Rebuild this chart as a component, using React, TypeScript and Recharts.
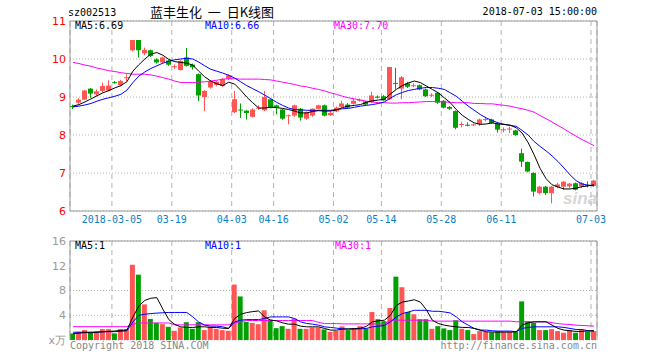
import React from 'react';
import { ComposedChart, Bar, Line, XAxis, YAxis, CartesianGrid, Cell, ReferenceLine } from 'recharts';

// daily candles, 2018-02-22 .. 2018-07-03
const openP = [
  8.76, 8.85, 8.93, 9.22, 9.07, 9.16, 9.17, 9.39, 9.31, 9.50,
  10.23, 10.50, 10.15, 10.23, 9.99, 9.91, 9.96, 9.79, 9.71, 10.04,
  9.85, 9.60, 9.00, 9.25, 9.32, 9.29, 9.48, 8.60, 8.67, 8.64,
  8.48, 8.70, 8.65, 8.94, 8.78, 8.67, 8.50, 8.51, 8.69, 8.43,
  8.51, 8.69, 8.78, 8.52, 8.62, 8.74, 8.80, 8.82, 8.91, 8.88,
  8.86, 9.01, 9.02, 8.94, 9.37, 9.22, 9.36, 9.29, 9.31, 9.20,
  9.04, 9.11, 8.90, 8.74, 8.63, 8.27, 8.27, 8.26, 8.28, 8.40,
  8.41, 8.30, 8.13, 8.15, 8.12, 7.52, 7.29, 7.00, 6.47, 6.64,
  6.47, 6.63, 6.64, 6.65, 6.73, 6.65, 6.69, 6.66,
];
const closeP = [
  8.74, 8.93, 9.17, 9.09, 9.15, 9.29, 9.30, 9.38, 9.42, 9.52,
  10.50, 10.23, 10.24, 10.08, 9.91, 10.04, 9.85, 9.81, 9.95, 9.82,
  9.78, 9.04, 9.16, 9.42, 9.40, 9.47, 9.57, 8.94, 8.65, 8.58,
  8.67, 8.72, 9.00, 8.72, 8.72, 8.43, 8.52, 8.78, 8.46, 8.60,
  8.69, 8.78, 8.51, 8.58, 8.72, 8.83, 8.72, 8.90, 8.93, 8.80,
  9.04, 9.00, 8.91, 9.79, 9.35, 9.52, 9.27, 9.31, 9.20, 9.02,
  9.06, 8.85, 8.72, 8.69, 8.19, 8.29, 8.26, 8.28, 8.41, 8.42,
  8.31, 8.14, 8.15, 8.17, 8.00, 7.30, 7.04, 6.51, 6.64, 6.47,
  6.64, 6.70, 6.77, 6.72, 6.56, 6.74, 6.68, 6.80,
];
const highP = [
  8.80, 8.97, 9.18, 9.24, 9.20, 9.38, 9.44, 9.42, 9.45, 9.60,
  10.50, 10.50, 10.30, 10.25, 10.02, 10.06, 9.98, 9.86, 9.97, 10.29,
  9.88, 9.62, 9.18, 9.45, 9.43, 9.50, 9.60, 9.16, 8.83, 8.66,
  8.70, 8.78, 9.16, 8.96, 8.80, 8.69, 8.54, 8.80, 8.71, 8.62,
  8.70, 8.80, 8.80, 8.62, 8.75, 8.90, 8.84, 8.96, 8.96, 8.90,
  9.14, 9.04, 9.05, 9.79, 9.77, 9.55, 9.40, 9.36, 9.33, 9.22,
  9.10, 9.13, 8.92, 8.76, 8.65, 8.35, 8.33, 8.30, 8.43, 8.48,
  8.43, 8.32, 8.20, 8.22, 8.14, 7.64, 7.30, 7.02, 6.66, 6.66,
  6.66, 6.74, 6.79, 6.74, 6.75, 6.76, 6.78, 6.82,
];
const lowP = [
  8.68, 8.82, 8.92, 8.98, 9.03, 9.12, 9.15, 9.35, 9.28, 9.42,
  10.20, 10.04, 10.10, 10.05, 9.88, 9.88, 9.82, 9.74, 9.70, 9.80,
  9.72, 8.89, 8.63, 9.22, 9.28, 9.27, 9.45, 8.58, 8.45, 8.41,
  8.46, 8.66, 8.63, 8.70, 8.54, 8.40, 8.28, 8.48, 8.38, 8.40,
  8.48, 8.67, 8.49, 8.50, 8.60, 8.72, 8.70, 8.80, 8.88, 8.78,
  8.84, 8.96, 8.90, 8.92, 9.20, 8.95, 9.24, 9.26, 9.18, 9.00,
  9.00, 8.82, 8.70, 8.66, 8.15, 8.20, 8.23, 8.24, 8.24, 8.36,
  8.29, 8.06, 8.07, 8.05, 7.98, 7.16, 7.02, 6.38, 6.44, 6.42,
  6.20, 6.60, 6.55, 6.60, 6.54, 6.60, 6.62, 6.64,
];
const ma5 = [
  8.76, 8.80, 8.87, 8.95, 9.03, 9.11, 9.17, 9.24, 9.30, 9.40,
  9.68, 9.85, 10.00, 10.13, 10.17, 10.10, 9.99, 9.93, 9.91, 9.89,
  9.84, 9.68, 9.53, 9.42, 9.35, 9.30, 9.39, 9.34, 9.18, 9.00,
  8.85, 8.71, 8.71, 8.73, 8.72, 8.70, 8.67, 8.63, 8.58, 8.58,
  8.62, 8.64, 8.63, 8.63, 8.66, 8.72, 8.76, 8.78, 8.80, 8.86,
  8.90, 8.92, 8.94, 9.08, 9.20, 9.30, 9.37, 9.42, 9.38, 9.29,
  9.20, 9.11, 8.98, 8.85, 8.67, 8.52, 8.41, 8.32, 8.28, 8.29,
  8.32, 8.29, 8.28, 8.26, 8.19, 8.05, 7.80, 7.48, 7.12, 6.85,
  6.69, 6.63, 6.58, 6.58, 6.60, 6.64, 6.66, 6.69,
];
const ma10 = [
  8.74, 8.76, 8.79, 8.83, 8.89, 8.94, 8.98, 9.02, 9.07, 9.18,
  9.38, 9.55, 9.66, 9.75, 9.82, 9.89, 9.94, 9.98, 10.00, 10.02,
  10.00, 9.92, 9.82, 9.73, 9.68, 9.63, 9.57, 9.50, 9.40, 9.30,
  9.22, 9.14, 9.05, 8.96, 8.86, 8.78, 8.71, 8.67, 8.66, 8.65,
  8.65, 8.65, 8.65, 8.65, 8.67, 8.69, 8.70, 8.73, 8.76, 8.78,
  8.80, 8.83, 8.87, 8.97, 9.06, 9.12, 9.17, 9.20, 9.23, 9.25,
  9.25, 9.23, 9.20, 9.11, 9.02, 8.89, 8.76, 8.65, 8.54, 8.45,
  8.38, 8.32, 8.28, 8.25, 8.23, 8.12, 8.00, 7.83, 7.70, 7.58,
  7.45, 7.30, 7.13, 6.95, 6.80, 6.71, 6.68, 6.66,
];
const ma30 = [
  9.91, 9.88, 9.84, 9.81, 9.76, 9.73, 9.69, 9.67, 9.64, 9.62,
  9.60, 9.60, 9.60, 9.58, 9.55, 9.51, 9.47, 9.42, 9.38, 9.38,
  9.38, 9.39, 9.40, 9.42, 9.44, 9.47, 9.48, 9.48, 9.47, 9.47,
  9.47, 9.47, 9.46, 9.45, 9.42, 9.39, 9.36, 9.33, 9.29, 9.27,
  9.23, 9.20, 9.16, 9.11, 9.07, 9.02, 8.98, 8.95, 8.92, 8.89,
  8.87, 8.85, 8.85, 8.84, 8.84, 8.85, 8.85, 8.86, 8.87, 8.88,
  8.88, 8.88, 8.87, 8.86, 8.85, 8.85, 8.85, 8.83, 8.83, 8.82,
  8.82, 8.80, 8.78, 8.76, 8.72, 8.69, 8.65, 8.60, 8.51, 8.43,
  8.34, 8.25, 8.16, 8.06, 7.97, 7.88, 7.80, 7.72,
];

// volume, 万手
const vol = [
  1.05, 1.33, 1.60, 1.17, 1.33, 1.76, 1.76, 1.07, 1.76, 1.76,
  12.16, 10.56, 5.76, 3.41, 2.77, 2.56, 2.13, 1.49, 2.03, 2.88,
  1.81, 2.88, 1.60, 2.13, 1.81, 1.60, 1.49, 8.96, 7.04, 2.93,
  2.77, 2.56, 4.80, 3.31, 1.92, 2.24, 1.81, 3.47, 1.81, 1.81,
  2.03, 2.03, 1.71, 1.33, 1.49, 2.20, 1.60, 1.87, 2.24, 1.87,
  4.53, 3.36, 3.04, 5.17, 10.24, 8.53, 4.53, 4.16, 3.36, 3.36,
  1.81, 2.24, 1.87, 1.60, 3.20, 1.81, 1.60, 0.96, 1.44, 1.33,
  1.23, 1.39, 1.28, 1.28, 1.33, 6.24, 3.04, 2.77, 1.60, 1.60,
  1.76, 1.44, 1.17, 1.60, 1.17, 1.60, 1.39, 1.44,
];
const vma5 = [
  1.00, 1.10, 1.20, 1.17, 1.25, 1.33, 1.40, 1.45, 1.55, 1.60,
  3.70, 5.50, 6.40, 6.75, 6.85, 5.00, 3.30, 2.50, 2.13, 2.03,
  2.03, 2.13, 2.13, 2.03, 2.03, 1.90, 1.87, 3.47, 4.16, 4.43,
  4.59, 4.69, 3.73, 3.20, 3.09, 2.77, 2.56, 2.56, 2.24, 2.13,
  2.13, 2.13, 1.87, 1.60, 1.60, 1.75, 1.80, 1.85, 1.90, 2.20,
  2.93, 3.10, 3.20, 4.00, 5.60, 6.13, 6.30, 6.50, 6.13, 4.90,
  3.20, 2.67, 2.40, 2.24, 2.13, 2.03, 2.03, 1.87, 1.60, 1.33,
  1.28, 1.28, 1.28, 1.28, 1.33, 2.40, 2.77, 2.93, 2.93, 2.93,
  2.40, 1.87, 1.60, 1.50, 1.39, 1.39, 1.49, 1.49,
];
const vma10 = [
  1.25, 1.25, 1.27, 1.27, 1.30, 1.33, 1.35, 1.35, 1.40, 1.50,
  2.90, 4.00, 4.16, 4.27, 4.35, 4.40, 4.45, 4.45, 4.45, 4.45,
  3.75, 2.90, 2.40, 2.24, 2.24, 2.13, 1.87, 2.93, 3.20, 3.30,
  3.30, 3.30, 3.47, 3.73, 3.73, 3.73, 3.73, 3.47, 2.93, 2.67,
  2.56, 2.40, 2.13, 2.03, 1.92, 1.81, 1.76, 1.76, 1.81, 1.87,
  2.13, 2.24, 2.35, 2.93, 3.73, 4.27, 4.53, 4.80, 4.80, 4.80,
  4.64, 4.64, 4.53, 4.37, 3.73, 2.93, 2.40, 1.87, 1.60, 1.60,
  1.49, 1.44, 1.44, 1.44, 1.33, 1.87, 2.03, 2.13, 2.13, 2.13,
  2.13, 2.13, 2.03, 1.87, 1.70, 1.70, 1.49, 1.44,
];
const vma30 = [
  2.15, 2.15, 2.15, 2.15, 2.15, 2.15, 2.15, 2.15, 2.15, 2.15,
  2.55, 2.75, 2.75, 2.75, 2.75, 2.75, 2.75, 2.45, 2.45, 2.45,
  2.45, 2.45, 2.45, 2.45, 2.45, 2.45, 2.45, 2.75, 2.95, 3.15,
  3.15, 3.15, 3.15, 3.15, 3.15, 3.15, 3.15, 3.15, 3.15, 3.15,
  3.15, 2.85, 2.65, 2.65, 2.65, 2.60, 2.60, 2.60, 2.60, 2.60,
  2.60, 2.60, 2.60, 3.20, 3.20, 3.20, 3.20, 3.20, 3.20, 3.20,
  3.05, 3.05, 3.05, 3.05, 3.05, 3.05, 3.05, 3.05, 3.05, 3.05,
  3.05, 3.05, 3.05, 3.05, 2.95, 2.95, 2.95, 2.95, 2.95, 2.95,
  2.80, 2.65, 2.55, 2.50, 2.40, 2.35, 2.30, 2.25,
];

const tickIdx = [7, 17, 27, 34, 44, 52, 62, 72, 87];
const tickLabels = ['2018-03-05', '03-19', '04-03', '04-16', '05-02', '05-14', '05-28', '06-11', '07-03'];
const priceTicks = [6, 7, 8, 9, 10, 11];
const volTicks = [0, 4, 8, 12, 16];

const RED = '#ff5555';
const GREEN = '#00a000';
const GRID = '#b4b4b4';
const BORDER = '#9a9a9a';
const MONO = '"DejaVu Sans Mono", monospace';

const data = openP.map((o, i) => ({
  i,
  open: o,
  close: closeP[i],
  high: highP[i],
  low: lowP[i],
  range: [lowP[i], highP[i]],
  ma5: ma5[i],
  ma10: ma10[i],
  ma30: ma30[i],
  vol: vol[i],
  vma5: vma5[i],
  vma10: vma10[i],
  vma30: vma30[i],
}));

const lastIdx = data.length - 1;
const xDomain = [-0.5, lastIdx + 0.5];
const gridTicks = tickIdx.map((t) => t - 0.5);
const fmtDate = (v: number) => tickLabels[tickIdx.indexOf(v + 0.5)] ?? '';

const Candle = (props: any) => {
  const { x, y, width, height, payload } = props;
  const { open, close, high, low } = payload;
  const color = close >= open ? RED : GREEN;
  const top = Math.min(y, y + height);
  const h = Math.abs(height);
  const ppu = high > low ? h / (high - low) : 0;
  const bodyTop = top + (high - Math.max(open, close)) * ppu;
  const bodyH = Math.max(1, Math.abs(open - close) * ppu);
  const bx = Math.round(x);
  const cx = bx + width / 2;
  return (
    <g>
      <line x1={cx} x2={cx} y1={top} y2={top + h} stroke={color} strokeWidth={1} />
      <rect x={bx} y={bodyTop} width={width} height={bodyH} fill={color} />
    </g>
  );
};

const Txt = ({ left, right, top, color = '#000', size = 10, family = MONO, lh = 12, children }: any) => (
  <div
    style={{
      position: 'absolute',
      left,
      right,
      top,
      color,
      fontSize: size,
      fontFamily: family,
      lineHeight: `${lh}px`,
      whiteSpace: 'pre',
    }}
  >
    {children}
  </div>
);

export default function App() {
  return (
    <div style={{ position: 'absolute', left: 0, top: 0, width: 660, height: 360, background: '#fff', overflow: 'hidden' }}>
      <Txt left={68} top={7}>sz002513</Txt>
      <Txt left={150} top={4} size={13} lh={16} family='"Noto Sans CJK SC", sans-serif'>
        {'蓝丰生化  一  日K线图'}
      </Txt>
      <Txt right={63} top={6}>2018-07-03 15:00:00</Txt>

      <div style={{ position: 'absolute', left: 563, top: 189, color: '#d6d6d6', fontSize: 17, fontStyle: 'italic', fontWeight: 'bold', fontFamily: 'Liberation Sans, sans-serif' }}>
        sina
      </div>

      <div style={{ position: 'absolute', left: 0, top: 0 }}>
        <ComposedChart width={660} height={235} data={data} margin={{ top: 21, right: 63, bottom: 0, left: 0 }}>
          <CartesianGrid vertical={false} stroke={GRID} strokeDasharray="1 2" />
          <CartesianGrid horizontal={false} stroke={GRID} strokeDasharray="5 4" />
          <XAxis
            dataKey="i"
            type="number"
            domain={xDomain}
            ticks={gridTicks}
            interval={0}
            tickFormatter={fmtDate}
            allowDataOverflow
            height={24}
            tickLine={false}
            tickSize={0}
            tickMargin={5}
            axisLine={{ stroke: BORDER }}
            tick={{ fill: '#0a7fc6', fontSize: 10, fontFamily: MONO }}
          />
          <YAxis
            domain={[6, 11]}
            ticks={priceTicks}
            allowDataOverflow
            width={70}
            tickLine={false}
            tickSize={0}
            tickMargin={4}
            axisLine={{ stroke: BORDER }}
            tick={{ fill: '#ff0000', fontSize: 11, fontFamily: 'DejaVu Sans, sans-serif' }}
          />
          <ReferenceLine y={11} stroke={BORDER} />
          <ReferenceLine x={lastIdx + 0.5} stroke={BORDER} />
          <Bar dataKey="range" barSize={5} shape={Candle} isAnimationActive={false} />
          <Line dataKey="ma30" stroke="#ff00ff" strokeWidth={1} dot={false} isAnimationActive={false} />
          <Line dataKey="ma10" stroke="#0000ff" strokeWidth={1} dot={false} isAnimationActive={false} />
          <Line dataKey="ma5" stroke="#000000" strokeWidth={1} dot={false} isAnimationActive={false} />
        </ComposedChart>
      </div>

      <div style={{ position: 'absolute', left: 0, top: 235 }}>
        <ComposedChart width={660} height={125} data={data} margin={{ top: 6, right: 63, bottom: 20, left: 0 }}>
          <CartesianGrid vertical={false} stroke={GRID} strokeDasharray="1 2" />
          <CartesianGrid horizontal={false} stroke={GRID} strokeDasharray="5 4" />
          <XAxis dataKey="i" type="number" domain={xDomain} ticks={gridTicks} allowDataOverflow hide />
          <YAxis
            domain={[0, 16]}
            ticks={volTicks}
            allowDataOverflow
            width={70}
            tickLine={false}
            tickSize={0}
            tickMargin={4}
            axisLine={{ stroke: BORDER }}
            tickFormatter={(v: number) => (v === 0 ? 'x万' : String(v))}
            tick={{ fill: '#999999', fontSize: 11, fontFamily: 'DejaVu Sans, sans-serif' }}
          />
          <ReferenceLine y={16} stroke={BORDER} />
          <ReferenceLine x={lastIdx + 0.5} stroke={BORDER} />
          <Bar dataKey="vol" barSize={5} isAnimationActive={false}>
            {data.map((d) => (
              <Cell key={d.i} fill={d.close >= d.open ? RED : GREEN} />
            ))}
          </Bar>
          <Line dataKey="vma30" stroke="#ff00ff" strokeWidth={1} dot={false} isAnimationActive={false} />
          <Line dataKey="vma10" stroke="#0000ff" strokeWidth={1} dot={false} isAnimationActive={false} />
          <Line dataKey="vma5" stroke="#000000" strokeWidth={1} dot={false} isAnimationActive={false} />
        </ComposedChart>
      </div>

      <Txt left={75} top={20}>MA5:6.69</Txt>
      <Txt left={205} top={20} color="#0000ff">MA10:6.66</Txt>
      <Txt left={334} top={20} color="#ff00ff">MA30:7.70</Txt>

      <Txt left={75} top={240}>MA5:1</Txt>
      <Txt left={205} top={240} color="#0000ff">MA10:1</Txt>
      <Txt left={335} top={240} color="#ff00ff">MA30:1</Txt>

      <Txt left={70} top={340} color="#888">Copyright 2018 SINA.COM</Txt>
      <Txt right={63} top={340} color="#888">http://finance.sina.com.cn</Txt>
    </div>
  );
}
